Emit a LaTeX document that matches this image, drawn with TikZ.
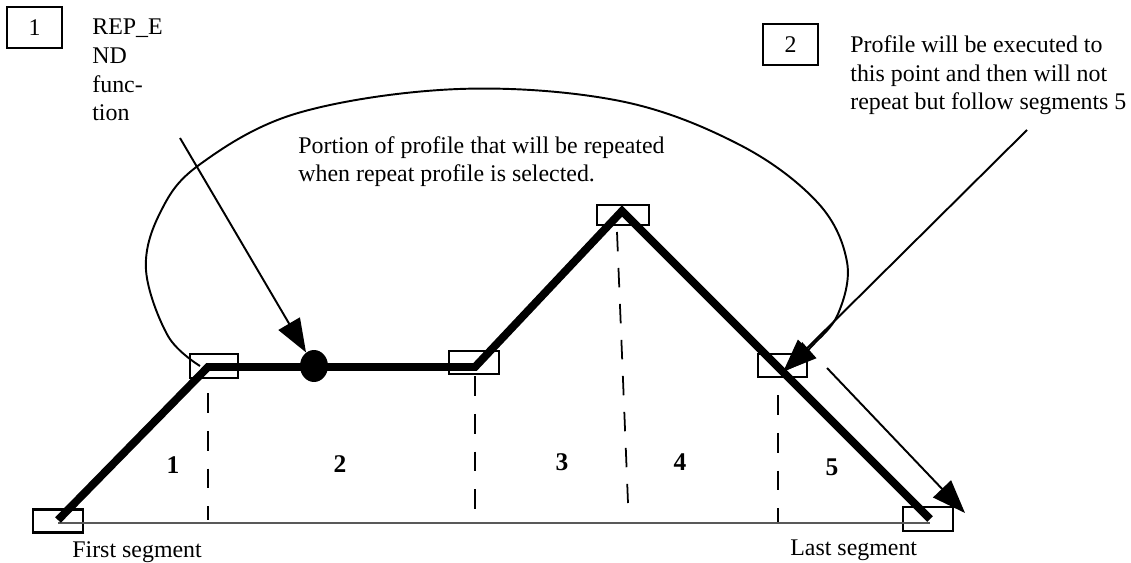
\documentclass[tikz,border=0pt]{standalone}
\usepackage{fontspec}
\setmainfont{Liberation Serif}
\usetikzlibrary{arrows.meta,shapes.geometric}
\begin{document}
\begin{tikzpicture}[x=0.02cm,y=-0.02cm,
  lbl/.style={font=\fontsize{13.6}{16.4}\selectfont, inner sep=0pt},
  num/.style={font=\fontsize{14.5}{17}\selectfont\bfseries, inner sep=0pt},
  pbox/.style={draw, line width=1.4pt, minimum width=1cm, minimum height=0.46cm, inner sep=0pt},
  nbox/.style={draw, line width=1.2pt, minimum width=1.1cm, minimum height=0.82cm, inner sep=0pt, font=\fontsize{13.6}{16.4}\selectfont},
  profile/.style={line width=4.5pt, line join=miter},
  guide/.style={line width=1.4pt, dash pattern=on 11.3pt off 10.2pt},
  guidethin/.style={line width=1pt, dash pattern=on 11pt off 9.5pt},
  base/.style={line width=0.8pt, black!65},
  loopline/.style={line width=1.1pt},
  pointer/.style={line width=1.1pt, -{Triangle[length=19pt,width=14pt]}},
]
\useasboundingbox (0,0) rectangle (1131,563);
% boxes at profile points
\node[pbox] (b0) at (58,521) {};
\node[pbox, minimum width=0.96cm, minimum height=0.48cm] (b1) at (214,366) {};
\node[pbox] (b2) at (474,362.5) {};
\node[pbox, minimum width=1.04cm, minimum height=0.4cm] (b3) at (623,215) {};
\node[pbox, minimum width=0.98cm] (b4) at (782.5,365.5) {};
\node[pbox, minimum height=0.48cm] (b5) at (928,519) {};
% profile points
\coordinate (p0) at (58,520);
\coordinate (p1) at (208,367);
\coordinate (p2) at (475,367);
\coordinate (p3) at (622,211);
\coordinate (p4) at (783,372);
\coordinate (p5) at (930,519);
% baseline
\coordinate (q0) at (58,523);
\coordinate (q5) at (930,523);
\draw[base] (q0) -- (q5);
% dashed guides
\coordinate (g1t) at (208,393); \coordinate (g1b) at (208,520);
\coordinate (g2t) at (475,376); \coordinate (g2b) at (475,522);
\coordinate (g3t) at (617,232); \coordinate (g3b) at (628,503);
\coordinate (g4t) at (778,395); \coordinate (g4b) at (778,522);
\draw[guide] (g1t) -- (g1b);
\draw[guide] (g2t) -- (g2b);
\draw[guidethin] (g3t) -- (g3b);
\draw[guide] (g4t) -- (g4b);
% profile
\draw[profile] (p0) -- (p1) -- (p2) -- (p3) -- (p4) -- (p5);
% REP_END dot
\node[ellipse, fill=black, minimum width=0.56cm, minimum height=0.64cm, inner sep=0pt] (dot) at (314,366) {};
% loop
\draw[loopline, -{Triangle[length=17pt,width=12pt]}] plot[smooth, tension=0.6] coordinates
  {(200,366) (168,336) (146,270) (160,213) (199,165) (298,113) (459,89) (620,101) (740,145) (818,203) (847,262) (838,314) (812,346) (787,370)};
% pointers
\coordinate (a1s) at (180,138);
\draw[pointer] (a1s) -- (dot);
\coordinate (a2s) at (1027,130);
\draw[pointer] (a2s) -- (p4);
\coordinate (a5s) at (827,368);
\coordinate (a5e) at (965,513);
\draw[pointer] (a5s) -- (a5e);
% numbered boxes
\node[nbox] (n1) at (34.5,27.5) {1};
\node[nbox] (n2) at (790.5,44.5) {2};
% texts (base anchor = baseline of the last line)
\node[lbl, anchor=base west, align=left] (rep) at (92,121) {REP\_E\\ND\\func-\\tion};
\node[lbl, anchor=base west, align=left] (note2) at (850,110) {Profile will be executed to\\this point and then will not\\repeat but follow segments 5};
\node[lbl, anchor=base west, align=left] (portion) at (298,182) {Portion of profile that will be repeated\\when repeat profile is selected.};
\node[lbl, anchor=base west] (first) at (72,557) {First segment};
\node[lbl, anchor=base west] (last) at (790,555) {Last segment};
% segment numbers
\node[num] (s1) at (173,465) {1};
\node[num] (s2) at (340,464) {2};
\node[num] (s3) at (562,462) {3};
\node[num] (s4) at (680,462) {4};
\node[num] (s5) at (832,467) {5};
\end{tikzpicture}
\end{document}
